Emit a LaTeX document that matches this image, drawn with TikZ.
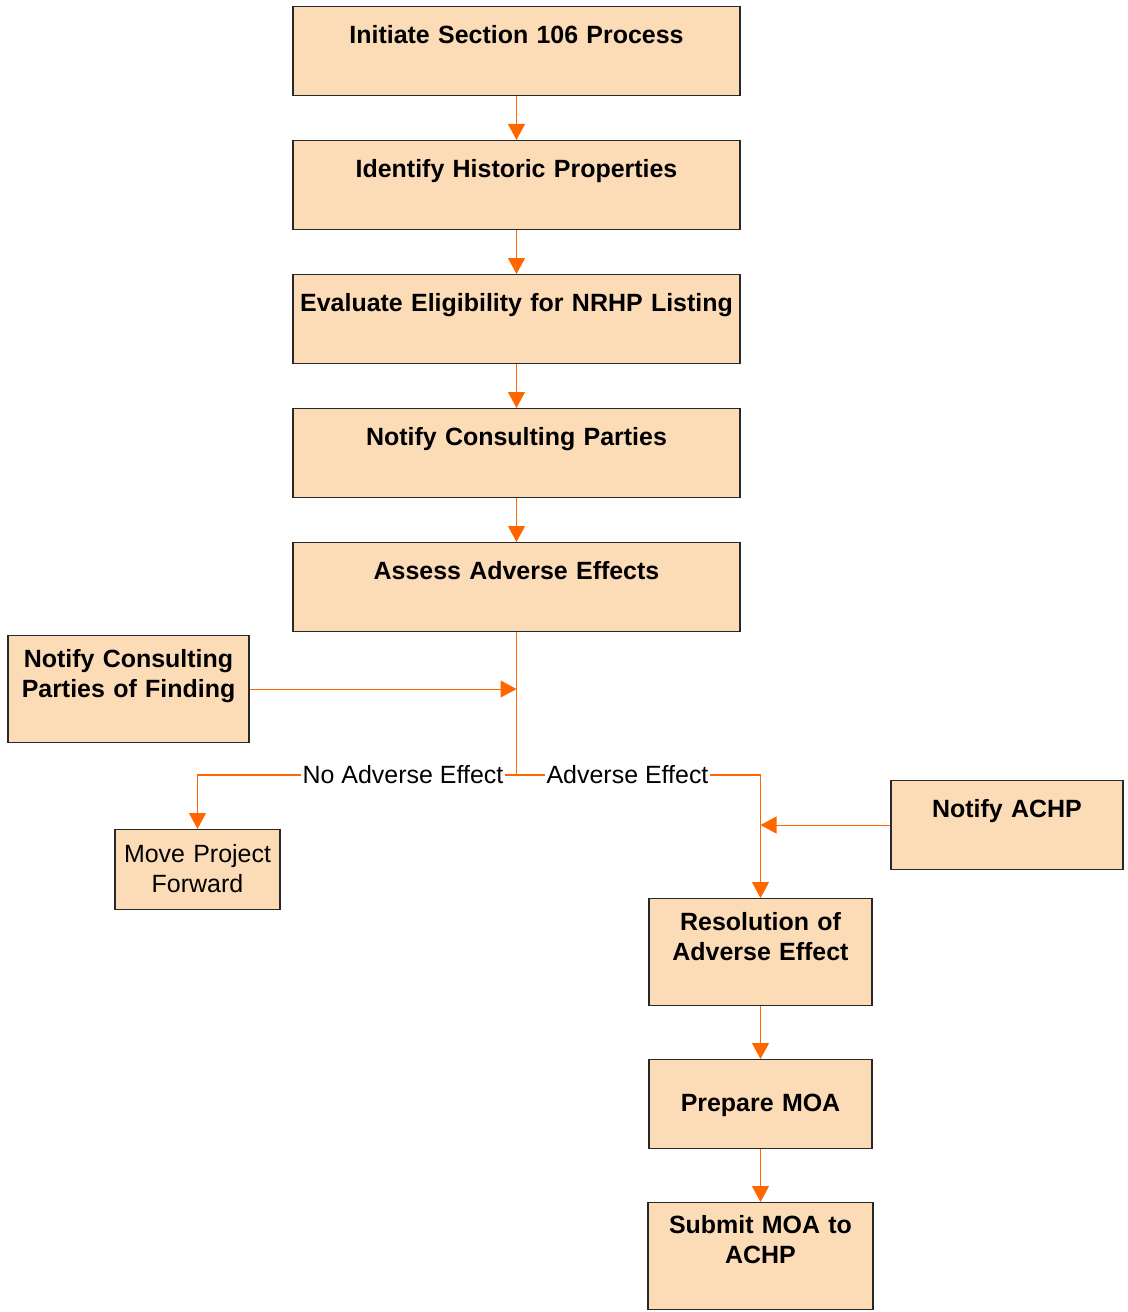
\documentclass[tikz,border=0pt]{standalone}
\usepackage{fontspec}
\setmainfont{Liberation Sans}
\usetikzlibrary{arrows.meta, positioning, calc}
\definecolor{peach1}{RGB}{252, 219, 183}
\definecolor{flow1}{RGB}{255, 102, 0}
\definecolor{edge1}{RGB}{40, 40, 40}
\newcommand{\boxfont}{\fontsize{14.2pt}{17.07pt}\selectfont}

\begin{document}
\begin{tikzpicture}[
  stepbox/.style={draw=edge1, fill=peach1, line width=0.6pt, anchor=north, align=center, inner sep=0pt, font=\boxfont\bfseries},
  flow/.style={draw=flow1, line width=0.6pt, -{Triangle[length=0.32cm, width=0.34cm]}},
  branch/.style={fill=white, inner sep=1pt, font=\boxfont}
]
  \useasboundingbox (0, 0) rectangle (22.54, -26.24);

  % Main sequence
  \node[stepbox, text width=8.94cm, text height=0.74cm, text depth=1.04cm] (init) at (10.33, -0.12) {Initiate Section 106 Process};
  \node[stepbox, text width=8.94cm, text height=0.74cm, text depth=1.04cm] (ident) at (10.33, -2.80) {Identify Historic Properties};
  \node[stepbox, text width=8.94cm, text height=0.74cm, text depth=1.04cm] (eval) at (10.33, -5.48) {Evaluate Eligibility for NRHP Listing};
  \node[stepbox, text width=8.94cm, text height=0.74cm, text depth=1.04cm] (notify) at (10.33, -8.16) {Notify Consulting Parties};
  \node[stepbox, text width=8.94cm, text height=0.74cm, text depth=1.04cm] (assess) at (10.33, -10.84) {Assess Adverse Effects};

  % Side inputs
  \node[stepbox, text width=4.82cm, text height=0.64cm, text depth=1.50cm] (finding) at (2.57, -12.70) {Notify Consulting\\Parties of Finding};
  \node[stepbox, text width=4.64cm, text height=0.74cm, text depth=1.04cm] (achp) at (20.14, -15.60) {Notify ACHP};

  % Outcomes
  \node[stepbox, font=\boxfont, text width=3.30cm, text height=0.66cm, text depth=0.94cm] (move) at (3.95, -16.58) {Move Project\\Forward};
  \node[stepbox, text width=4.46cm, text height=0.64cm, text depth=1.50cm] (resol) at (15.21, -17.96) {Resolution of\\Adverse Effect};
  \node[stepbox, text width=4.46cm, text height=1.04cm, text depth=0.74cm] (prep) at (15.21, -21.18) {Prepare MOA};
  \node[stepbox, text width=4.50cm, text height=0.62cm, text depth=1.52cm] (submit) at (15.21, -24.04) {Submit MOA to\\ACHP};

  \coordinate (split) at (10.33, -15.50);

  % Connectors
  \draw[flow] (init) -- (ident);
  \draw[flow] (ident) -- (eval);
  \draw[flow] (eval) -- (notify);
  \draw[flow] (notify) -- (assess);
  \draw[draw=flow1, line width=0.6pt] (assess.south) -- (split);
  \draw[flow] (finding.east) -- (finding.east -| split);
  \draw[flow] (split) -| (move.north);
  \draw[flow] (split) -| (resol.north);
  \draw[flow] (achp.west) -- (achp.west -| resol.north);
  \draw[flow] (resol) -- (prep);
  \draw[flow] (prep) -- (submit);

  % Branch labels
  \node[branch] (noadverse) at (8.06, -15.50) {No Adverse Effect};
  \node[branch] (adverse) at (12.55, -15.50) {Adverse Effect};
\end{tikzpicture}
\end{document}
